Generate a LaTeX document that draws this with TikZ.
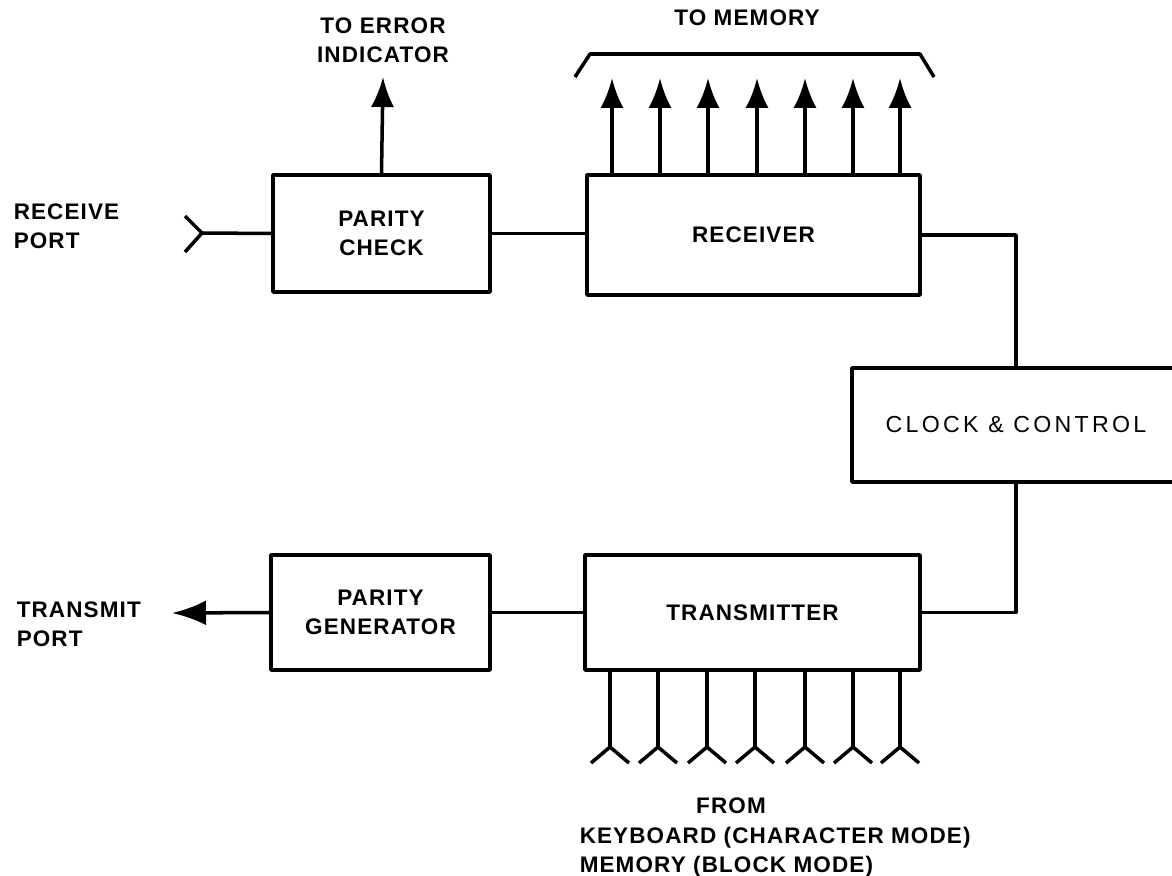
\documentclass[tikz,border=0pt]{standalone}
\usepackage{fontspec}
\setmainfont{Liberation Sans}
\newfontfamily\lblfont{Liberation Sans}[LetterSpace=5]
\newfontfamily\clkfont{Liberation Sans}[LetterSpace=14]
\usepackage{tikz}
\usetikzlibrary{arrows.meta,calc}

\begin{document}
\begin{tikzpicture}[x=0.25mm,y=-0.25mm,line width=2.5pt,line join=round,>={Latex[length=7.5mm,width=5.8mm]},
  blk/.style={draw,inner sep=0pt,align=center,font=\lblfont\bfseries\fontsize{16}{20.6}\selectfont},
  lbl/.style={inner sep=0pt,font=\lblfont\bfseries\fontsize{16}{20.6}\selectfont}]
\useasboundingbox (0,0) rectangle (1172,876);
% blocks
\node[blk,minimum width=54.25mm,minimum height=29.25mm] (pchk) at (381.5,233.5) {PARITY\\CHECK};
\node[blk,minimum width=83.25mm,minimum height=30mm] (rcv) at (753.5,235) {\raisebox{-1.5mm}{RECEIVER}};
\node[blk,minimum width=54.75mm,minimum height=28.75mm] (pgen) at (380.5,612.5) {PARITY\\GENERATOR};
\node[blk,minimum width=83.75mm,minimum height=28.75mm] (tx) at (752.5,612.5) {TRANSMITTER};
\node[draw,inner sep=0pt,minimum width=82mm,minimum height=28.5mm,font=\clkfont\fontsize{16.5}{20}\selectfont]
   (clk) at (1016,425) {CLOCK \& CONTROL};
% labels
\node[lbl,align=left,anchor=west] (rxlbl) at (12,226.5) {RECEIVE\\PORT};
\node[lbl,align=left,anchor=west] (txlbl) at (15,624) {TRANSMIT\\PORT};
\node[lbl,align=center] (errlbl) at (383,40) {TO ERROR\\INDICATOR};
\node[lbl,anchor=base] (memlbl) at (747,26) {TO MEMORY};
\node[lbl,anchor=base] (fromlbl) at (731,813) {FROM};
\node[lbl,align=left,anchor=north west] (srclbl) at (578,825) {KEYBOARD (CHARACTER MODE)\\MEMORY (BLOCK MODE)};
% receive side
\coordinate (rxin) at (202,233);
\draw (rxin) ++(-17,-17) -- (rxin) -- ++(-17,19);
\draw (rxin) -- (pchk.west);
\coordinate (errout) at (383,77);
\draw[->] (pchk.north) -- (errout);
\draw (pchk.east) -- (pchk.east -| rcv.west);
\foreach \x in {612,660,708,757,805,853,900}{
   \coordinate (mem) at (\x,78);
   \draw[->] (mem |- rcv.north) -- (mem);
}
\draw (575,77) -- (590,54) -- (920,54) -- (934,77);
% control
\draw (rcv.east) -| (clk.north);
\draw (clk.south) |- (tx.east);
% transmit side
\draw (tx.west) -- (tx.west -| pgen.east);
\coordinate (txout) at (172,613);
\draw[-{Latex[length=8.5mm,width=6.2mm]}] (pgen.west) -- (txout);
\foreach \x in {610,658,707,755,805,853,900}{
   \coordinate (kin) at (\x,747);
   \draw (kin |- tx.south) -- (kin);
   \draw (kin) ++(-19,16) -- (kin) -- ++(19,16);
}
\end{tikzpicture}
\end{document}
